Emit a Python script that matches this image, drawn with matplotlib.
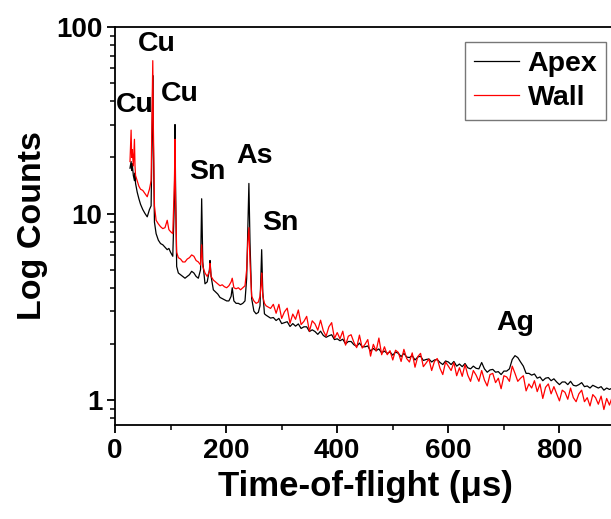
import numpy as np
import matplotlib
matplotlib.use("Agg")
import matplotlib.pyplot as plt
from matplotlib.ticker import LogLocator, NullFormatter, MultipleLocator, FixedLocator, FixedFormatter

plt.rcParams['font.family'] = ['Liberation Sans', 'DejaVu Sans']
plt.rcParams['font.weight'] = 'bold'

# ---- data ----
tof_head = [27, 29, 30, 31, 33, 35, 36, 37, 40, 43, 46, 50, 54, 58, 62, 65, 67, 68, 69, 71,
            74, 78, 82, 86, 90, 94, 97, 100, 104, 107, 108, 109, 111, 114, 118, 122, 126, 130,
            134, 138, 142, 146, 150, 154, 156, 158, 162, 166, 170, 171, 173, 177, 181, 185, 189,
            193, 197, 201, 205, 209, 211, 214, 218, 222, 226, 230, 234, 237, 239, 241, 243, 246,
            250, 254, 258, 261, 263, 264, 266, 269, 272, 276, 280]
tof_tail = list(range(285, 905, 5))
tof = tof_head + tof_tail

apex_head = [17.5, 19, 17, 18.5, 16, 15, 16.5, 14.5, 13, 12, 11.2, 10.5, 10, 9.6, 10.5, 11, 30, 55, 25, 9,
             7.8, 7.2, 6.9, 6.8, 6.6, 6.4, 6.5, 6.2, 5.9, 12, 30, 14, 5.2, 4.8, 4.7, 4.6, 4.5, 4.6,
             4.7, 4.9, 4.8, 4.6, 4.5, 5.0, 12, 5.5, 4.2, 4.3, 5.0, 5.6, 4.6, 3.9, 3.8, 3.7, 3.55,
             3.5, 3.45, 3.4, 3.4, 3.6, 4.0, 3.4, 3.3, 3.3, 3.25, 3.3, 3.4, 4.5, 8, 14.5, 7, 3.5,
             3.0, 2.9, 2.95, 3.2, 5, 6.4, 3.8, 2.9, 2.85, 2.8, 2.75]
apex_tail = [2.77, 2.67, 2.74, 2.57, 2.60, 2.63, 2.48, 2.57, 2.49, 2.56,
             2.42, 2.47, 2.47, 2.33, 2.38, 2.33, 2.25, 2.34, 2.22, 2.17,
             2.21, 2.24, 2.11, 2.13, 2.08, 2.12, 2.00, 2.06, 2.06, 1.98,
             1.94, 2.02, 1.93, 1.93, 1.95, 1.83, 1.89, 1.84, 1.88, 1.79,
             1.83, 1.78, 1.81, 1.74, 1.81, 1.78, 1.71, 1.78, 1.70, 1.69,
             1.73, 1.64, 1.70, 1.72, 1.63, 1.65, 1.66, 1.60, 1.64, 1.65,
             1.59, 1.55, 1.62, 1.60, 1.55, 1.61, 1.52, 1.56, 1.51, 1.57,
             1.49, 1.47, 1.52, 1.48, 1.47, 1.59, 1.47, 1.41, 1.45, 1.46,
             1.41, 1.42, 1.37, 1.43, 1.43, 1.47, 1.65, 1.73, 1.69, 1.60,
             1.52, 1.39, 1.39, 1.36, 1.38, 1.31, 1.33, 1.27, 1.31, 1.32,
             1.27, 1.30, 1.25, 1.21, 1.25, 1.25, 1.21, 1.26, 1.20, 1.19,
             1.21, 1.24, 1.18, 1.19, 1.16, 1.20, 1.18, 1.16, 1.18, 1.13,
             1.16, 1.14, 1.16, 1.11]
apex = apex_head + apex_tail

wall_head = [19, 28, 20, 22, 18, 25, 18, 16, 15, 14, 13.5, 13.3, 12.8, 12.3, 13.5, 15, 40, 66, 30, 11,
             9.2, 8.8, 8.5, 8.3, 8.4, 9.2, 8.2, 8.0, 7.8, 15, 25, 12, 6.2, 5.8, 5.7, 5.5, 5.5, 5.7,
             5.8, 6.0, 5.9, 5.6, 5.5, 5.3, 6.8, 5.2, 4.8, 4.6, 4.9, 5.4, 4.6, 4.4, 4.3, 4.2, 4.1,
             4.15, 4.05, 4.0, 4.1, 4.3, 4.5, 4.0, 3.95, 4.0, 3.9, 4.0, 4.1, 5, 7, 8.4, 5.5, 3.6,
             3.4, 3.3, 3.35, 3.6, 4.2, 4.8, 3.6, 3.3, 3.2, 3.15, 3.1]
wall_tail = [3.26, 2.92, 3.26, 2.74, 2.97, 3.11, 2.58, 2.89, 2.71, 3.04,
             2.54, 2.64, 2.81, 2.34, 2.66, 2.56, 2.37, 2.68, 2.35, 2.20,
             2.47, 2.60, 2.14, 2.30, 2.13, 2.34, 1.97, 2.20, 2.24, 2.04,
             1.91, 2.23, 1.90, 1.99, 2.11, 1.72, 1.99, 1.83, 2.15, 1.75,
             1.93, 1.75, 1.84, 1.64, 1.85, 1.80, 1.61, 1.87, 1.67, 1.60,
             1.79, 1.50, 1.71, 1.78, 1.51, 1.58, 1.66, 1.44, 1.61, 1.67,
             1.48, 1.37, 1.60, 1.52, 1.44, 1.59, 1.35, 1.49, 1.34, 1.55,
             1.36, 1.26, 1.44, 1.36, 1.26, 1.44, 1.28, 1.19, 1.37, 1.39,
             1.24, 1.31, 1.15, 1.35, 1.33, 1.26, 1.52, 1.39, 1.26, 1.31,
             1.35, 1.12, 1.22, 1.16, 1.27, 1.11, 1.22, 1.02, 1.17, 1.22,
             1.08, 1.18, 1.08, 0.99, 1.13, 1.10, 1.01, 1.16, 1.03, 0.98,
             1.08, 1.13, 0.98, 1.03, 0.93, 1.07, 1.03, 0.95, 1.05, 0.89,
             1.02, 0.94, 1.04, 0.89]
wall = wall_head + wall_tail

series_names = ["Apex", "Wall"]
peak_labels = ["Cu", "Cu", "Cu", "Sn", "As", "Sn", "Ag"]
peak_label_x = [36, 76, 117, 167, 252, 297, 720]
peak_label_y = [38.3, 81, 43.8, 16.6, 20.4, 8.95, 2.58]

# ---- figure ----
fig = plt.figure(figsize=(6.11, 5.19), dpi=100)
ax = fig.add_axes([115 / 611, 94 / 519, 500 / 611, 398 / 519])

ax.plot(tof, apex, color='black', lw=0.9, label=series_names[0])
ax.plot(tof, wall, color='red', lw=0.9, label=series_names[1])

ax.set_yscale('log')
ax.set_xlim(0, 900)
ax.set_ylim(0.735, 100)

ax.xaxis.set_major_locator(FixedLocator([0, 200, 400, 600, 800]))
ax.xaxis.set_minor_locator(MultipleLocator(100))
ax.yaxis.set_major_locator(FixedLocator([1, 10, 100]))
ax.yaxis.set_major_formatter(FixedFormatter(["1", "10", "100"]))
ax.yaxis.set_minor_locator(LogLocator(base=10, subs=np.arange(2, 10)))
ax.yaxis.set_minor_formatter(NullFormatter())

ax.tick_params(axis='both', which='major', direction='out', length=6, width=1.3,
               labelsize=20, pad=3)
ax.tick_params(axis='both', which='minor', direction='out', length=3.5, width=1.1)
ax.tick_params(top=False, right=False)
for lbl in ax.get_xticklabels() + ax.get_yticklabels():
    lbl.set_fontweight('bold')

for s in ax.spines.values():
    s.set_linewidth(1.3)

ax.set_xlabel("Time-of-flight (\u03bcs)", fontsize=25, fontweight='bold', labelpad=5)
ax.set_ylabel("Log Counts", fontsize=24.5, fontweight='bold', labelpad=6)

for t, xx, yy in zip(peak_labels, peak_label_x, peak_label_y):
    ax.text(xx, yy, t, fontsize=20.5, fontweight='bold', ha='center', va='center')

leg = ax.legend(loc='upper right', bbox_to_anchor=(0.982, 0.962), borderaxespad=0,
                prop={'weight': 'bold', 'size': 20.5}, frameon=True, fancybox=False,
                handlelength=1.6, handletextpad=0.3, borderpad=0.3, labelspacing=0.3)
leg.get_frame().set_edgecolor('#555555')
leg.get_frame().set_linewidth(1.0)

fig.savefig("out.png", dpi=100)
